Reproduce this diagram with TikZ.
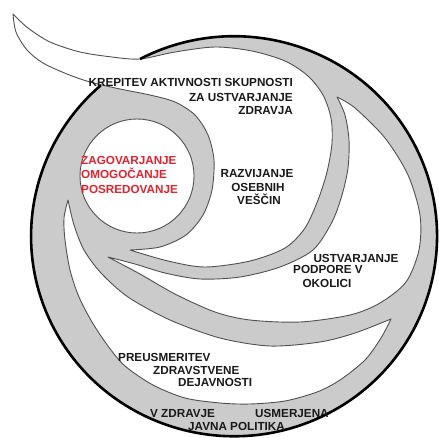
\documentclass[tikz,border=0pt]{standalone}
\usepackage{fontspec}
\setmainfont{Liberation Sans}
\definecolor{bandgray}{RGB}{203,203,203}
\definecolor{edgegray}{RGB}{80,80,80}
\definecolor{logored}{RGB}{225,35,45}
\definecolor{txt}{RGB}{25,25,25}
\begin{document}
\begin{tikzpicture}[x=1pt,y=-1pt,
  region/.style={fill=white,draw=edgegray,line width=0.9pt,line join=round},
  rim/.style={draw=black,line width=2.6pt},
  lbl/.style={inner sep=0pt,text height=8.4pt,text depth=0pt,font=\bfseries\fontsize{11.7}{13}\selectfont,text=txt},
  redlbl/.style={lbl,text=logored}]
\useasboundingbox (0,0) rectangle (439,437);
% grey body of the spiral
\fill[bandgray] (234,236) ellipse [x radius=203, y radius=200];
% white arm B (tail + upper field)
\path[region] plot[smooth] coordinates {(13,14) (28,28) (50,42) (80,52) (112,57) (140,59) (175,52) (215,47) (252,51) (285,61) (308,76) (323,95) (331,118) (332,143) (327,172) (318,200) (305,228) (285,248) (250,261) (205,267) (168,261) (130,250)}
  -- plot[smooth] coordinates {(130,250) (160,247) (186,235) (203,215) (212,190) (214,160) (208,135) (195,115) (175,102) (150,95) (120,89) (90,82) (67,74) (43,63) (27,50) (16,32) (13,14)} -- cycle;
% white arm C
\path[region] plot[smooth] coordinates {(337,97) (345,115) (349,140) (348,168) (342,195) (332,222) (313,250) (280,267) (240,277) (200,279) (165,273) (135,264) (108,257)}
  -- plot[smooth] coordinates {(108,257) (140,274) (175,294) (215,312) (250,320) (300,322) (350,315) (380,303) (406,282) (419,250) (420,215) (408,175) (385,138) (355,108) (337,97)} -- cycle;
% white arm D
\path[region] plot[smooth] coordinates {(68,200) (74,225) (84,250) (101,273) (128,297) (170,320) (220,338) (270,346) (320,342) (355,333) (391,319)}
  -- plot[smooth] coordinates {(391,319) (381,338) (365,360) (340,380) (317,392) (285,401) (250,404) (220,403) (185,398) (153,385) (125,366) (108,346) (92,322) (79,297) (70,270) (65,240) (64,218) (68,200)} -- cycle;
% inner circle A
\path[region] (137,176) circle [radius=57];
% black rim
\draw[rim] (140,59) arc[start angle=242.4, end angle=589, x radius=203, y radius=200];
% labels
\node[lbl,anchor=east] (k1) at (293,82) {KREPITEV AKTIVNOSTI SKUPNOSTI};
\node[lbl,anchor=east] (k2) at (293,97) {ZA USTVARJANJE};
\node[lbl,anchor=east] (k3) at (293,110) {ZDRAVJA};
\node[redlbl,anchor=west] (z1) at (81,160) {ZAGOVARJANJE};
\node[redlbl,anchor=west] (z2) at (81,174) {OMOGOČANJE};
\node[redlbl,anchor=west] (z3) at (81,189) {POSREDOVANJE};
\node[lbl] (r1) at (257,173) {RAZVIJANJE};
\node[lbl] (r2) at (258,187) {OSEBNIH};
\node[lbl] (r3) at (259,200) {VEŠČIN};
\node[lbl] (u1) at (356,258) {USTVARJANJE};
\node[lbl] (u2) at (328,269) {PODPORE V};
\node[lbl] (u3) at (327,283) {OKOLICI};
\node[lbl,anchor=west] (p1) at (118,357) {PREUSMERITEV};
\node[lbl,anchor=west] (p2) at (153,370) {ZDRAVSTVENE};
\node[lbl,anchor=west] (p3) at (178,382) {DEJAVNOSTI};
\node[lbl,anchor=west] (v1) at (150,413) {V ZDRAVJE};
\node[lbl,anchor=west] (v2) at (255,413) {USMERJENA};
\node[lbl,anchor=west] (v3) at (188,426) {JAVNA POLITIKA};
\end{tikzpicture}
\end{document}
